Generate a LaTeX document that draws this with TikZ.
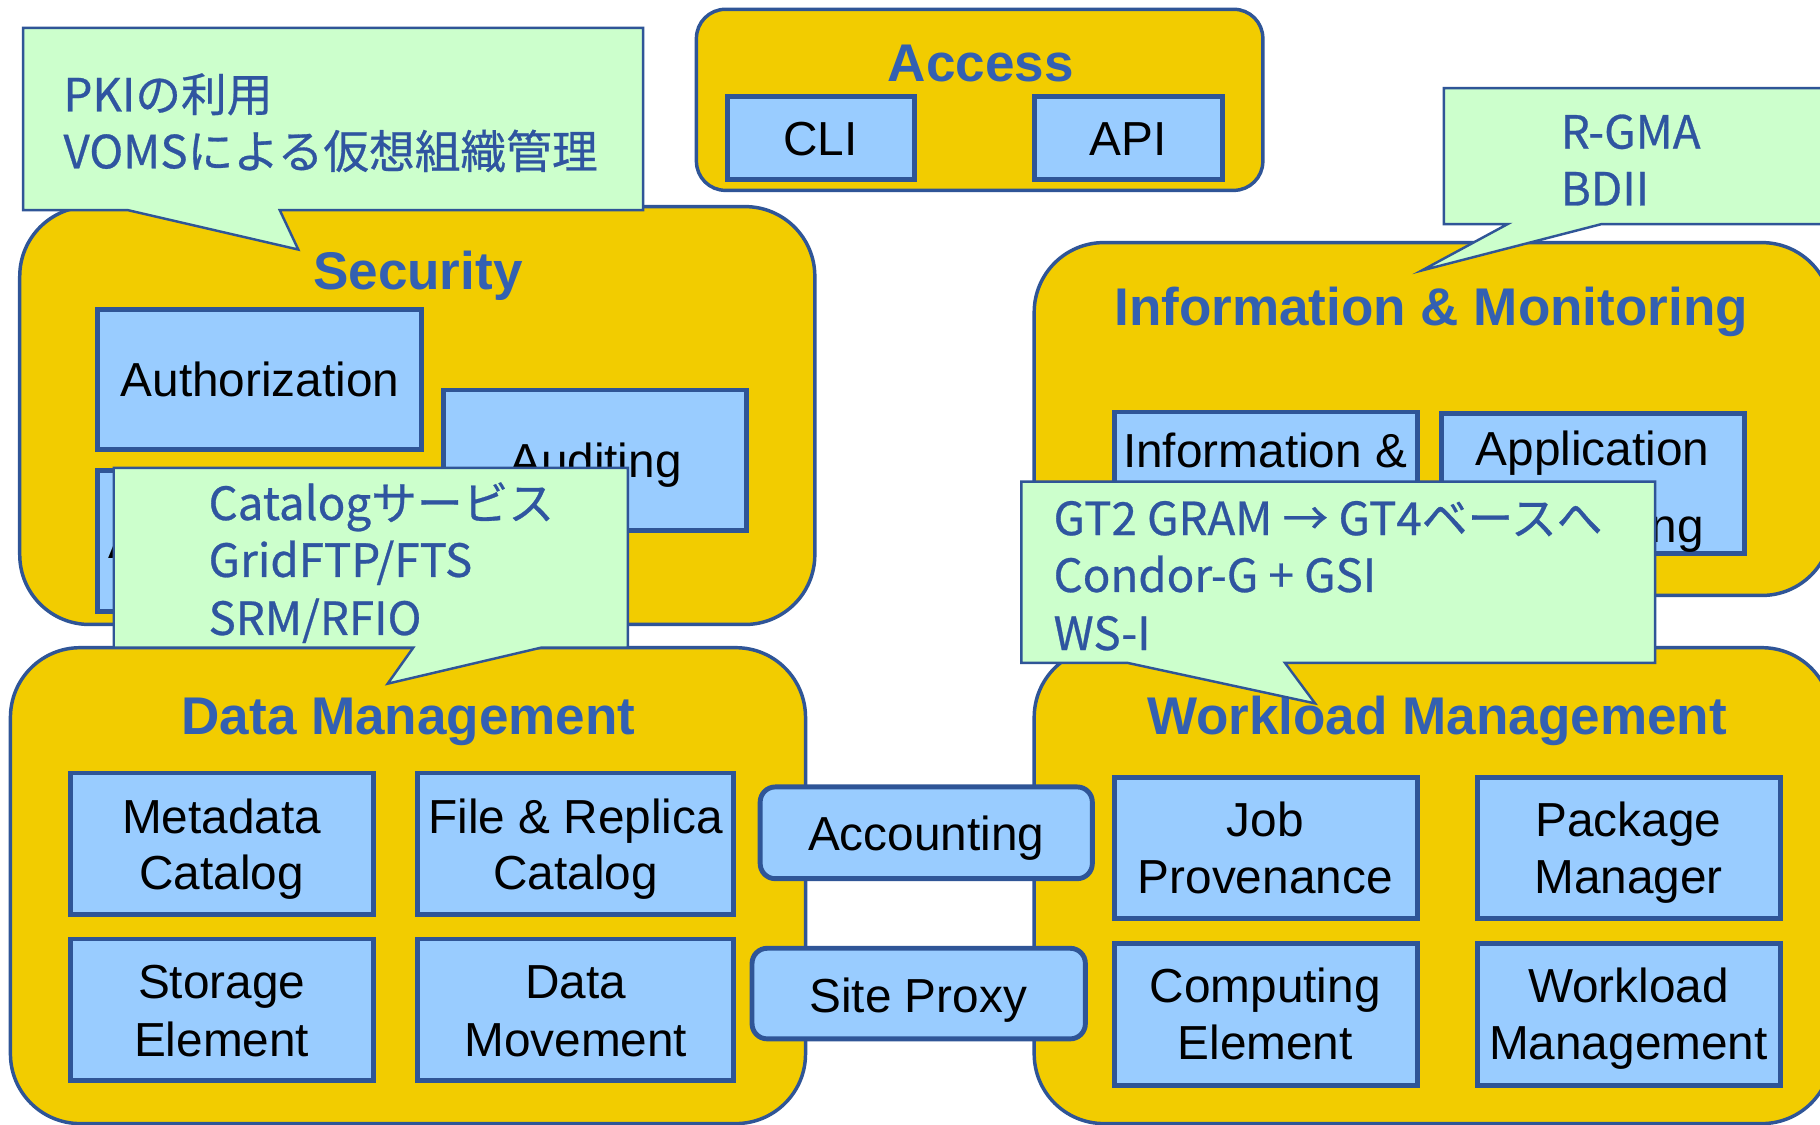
\documentclass[tikz,border=0pt]{standalone}
\usepackage{fontspec}
\setmainfont{Liberation Sans}
\newfontfamily\jpfont[FakeBold=0.6]{Noto Sans CJK JP}
\usepackage{tikz}

\definecolor{bordblue}{RGB}{47,85,151}
\definecolor{grpyellow}{RGB}{242,204,0}
\definecolor{compblue}{RGB}{153,204,255}
\definecolor{ttlblue}{RGB}{51,96,178}
\definecolor{notegreen}{RGB}{204,255,204}
\definecolor{noteblue}{RGB}{47,85,160}

\begin{document}
\begin{tikzpicture}[x=0.01cm,y=-0.01cm,
	grp/.style={draw=bordblue, fill=grpyellow, line width=0.85pt},
	comp/.style={draw=bordblue, fill=compblue, line width=1.2pt, inner sep=0pt},
	svc/.style={comp, rounded corners=0.13cm},
	ttl/.style={font=\bfseries\fontsize{13}{15}\selectfont, text=ttlblue, anchor=base, inner sep=0pt},
	txt/.style={font=\fontsize{11.7}{14}\selectfont, anchor=base, inner sep=0pt},
	note/.style={draw=bordblue, fill=notegreen, line width=0.6pt},
	ntxt/.style={font=\jpfont\fontsize{11.2}{13}\selectfont, text=noteblue, anchor=base west, inner sep=0pt}]
	
	\fill[white] (0,0) rectangle (1568,969);
	\useasboundingbox (0,0) rectangle (1568,969);
	
	% groups
	\draw[grp, rounded corners=0.25cm] (600,8) rectangle (1088,164);
	\draw[grp, rounded corners=0.6cm] (17,178) rectangle (702,538);
	\draw[grp, rounded corners=0.6cm] (891,209) rectangle (1578,513);
	\draw[grp, rounded corners=0.6cm] (9,558) rectangle (694,968);
	\draw[grp, rounded corners=0.6cm] (891,558) rectangle (1578,968);
	
	\node[ttl] (access) at (845,70) {Access};
	\node[ttl] (security) at (360,249) {Security};
	\node[ttl] (infomon) at (1233,280) {Information \& Monitoring};
	\node[ttl] (datamgmt) at (352,633) {Data Management};
	\node[ttl] (wlmgmt) at (1238,633) {Workload Management};
	
	% access
	\node[comp, minimum width=1.61cm, minimum height=0.72cm] (cli) at (707.5,119) {};
	\node[txt] (cli-1) at (707,134) {CLI};
	\node[comp, minimum width=1.62cm, minimum height=0.72cm] (api) at (972,119) {};
	\node[txt] (api-1) at (972,134) {API};
	
	% security
	\node[comp, minimum width=2.79cm, minimum height=1.20cm] (authz) at (223.5,327) {};
	\node[txt] (authz-1) at (224,342) {Authorization};
	\node[comp, minimum width=2.61cm, minimum height=1.21cm] (audit) at (512.5,396.5) {};
	\node[txt] (audit-1) at (513,411) {Auditing};
	\node[comp, minimum width=2.79cm, minimum height=1.22cm] (authn) at (223.5,466) {};
	\node[txt] (authn-1) at (224,481) {Authentication};
	
	% information & monitoring
	\node[comp, minimum width=2.61cm, minimum height=1.20cm] (infobox) at (1090.5,415) {};
	\node[txt] (infobox-1) at (1090,403) {Information \&};
	\node[txt] (infobox-2) at (1090,469) {Monitoring};
	\node[comp, minimum width=2.61cm, minimum height=1.21cm] (appmon) at (1372.5,416.5) {};
	\node[txt] (appmon-1) at (1372,401) {Application};
	\node[txt] (appmon-2) at (1372,467) {Monitoring};
	
	% data management
	\node[comp, minimum width=2.61cm, minimum height=1.22cm] (metacat) at (191.5,727) {};
	\node[txt] (metacat-1) at (191,718) {Metadata};
	\node[txt] (metacat-2) at (191,766) {Catalog};
	\node[comp, minimum width=2.72cm, minimum height=1.22cm] (replcat) at (496,727) {};
	\node[txt] (replcat-1) at (496,718) {File \& Replica};
	\node[txt] (replcat-2) at (496,766) {Catalog};
	\node[comp, minimum width=2.61cm, minimum height=1.22cm] (storel) at (191.5,870) {};
	\node[txt] (storel-1) at (191,860) {Storage};
	\node[txt] (storel-2) at (191,910) {Element};
	\node[comp, minimum width=2.72cm, minimum height=1.22cm] (datamov) at (496,870) {};
	\node[txt] (datamov-1) at (496,860) {Data};
	\node[txt] (datamov-2) at (496,910) {Movement};
	
	% workload management
	\node[comp, minimum width=2.61cm, minimum height=1.21cm] (jobprov) at (1090.5,730.5) {};
	\node[txt] (jobprov-1) at (1090,721) {Job};
	\node[txt] (jobprov-2) at (1090,770) {Provenance};
	\node[comp, minimum width=2.61cm, minimum height=1.21cm] (pkgmgr) at (1403.5,730.5) {};
	\node[txt] (pkgmgr-1) at (1403,721) {Package};
	\node[txt] (pkgmgr-2) at (1403,770) {Manager};
	\node[comp, minimum width=2.61cm, minimum height=1.22cm] (compel) at (1090.5,874) {};
	\node[txt] (compel-1) at (1090,864) {Computing};
	\node[txt] (compel-2) at (1090,913) {Element};
	\node[comp, minimum width=2.61cm, minimum height=1.22cm] (wlm) at (1403.5,874) {};
	\node[txt] (wlm-1) at (1403,864) {Workload};
	\node[txt] (wlm-2) at (1403,913) {Management};
	
	% shared services
	\node[svc, minimum width=2.86cm, minimum height=0.79cm] (acct) at (798,717.5) {};
	\node[txt] (acct-1) at (798,733) {Accounting};
	\node[svc, minimum width=2.87cm, minimum height=0.78cm] (proxy) at (791.5,856) {};
	\node[txt] (proxy-1) at (791,872) {Site Proxy};
	
	% callouts
	\draw[note] (20,24) -- (554,24) -- (554,181) -- (241,181) -- (257,215) -- (110,181) -- (20,181) -- cycle;
	\node[ntxt] (pki-1) at (54,96) {PKIの利用};
	\node[ntxt] (pki-2) at (54,145) {VOMSによる仮想組織管理};
	
	\draw[note] (1244,76) -- (1580,76) -- (1580,193) -- (1380,193) -- (1225,233) -- (1299,193) -- (1244,193) -- cycle;
	\node[ntxt] (rgma-1) at (1344,128) {R-GMA};
	\node[ntxt] (rgma-2) at (1344,177) {BDII};
	
	\draw[note] (98,403) -- (541,403) -- (541,558) -- (466,558) -- (334,589) -- (356,558) -- (98,558) -- cycle;
	\node[ntxt] (cat-1) at (179,448) {Catalogサービス};
	\node[ntxt] (cat-2) at (179,497) {GridFTP/FTS};
	\node[ntxt] (cat-3) at (179,547) {SRM/RFIO};
	
	\draw[note] (880,415) -- (1426,415) -- (1426,571) -- (1107,571) -- (1133,606) -- (971,571) -- (880,571) -- cycle;
	\node[ntxt] (gram-1) at (907,461) {GT2 GRAM → GT4ベースへ};
	\node[ntxt] (gram-2) at (907,510) {Condor-G + GSI};
	\node[ntxt] (gram-3) at (907,560) {WS-I};
	
\end{tikzpicture}
\end{document}
